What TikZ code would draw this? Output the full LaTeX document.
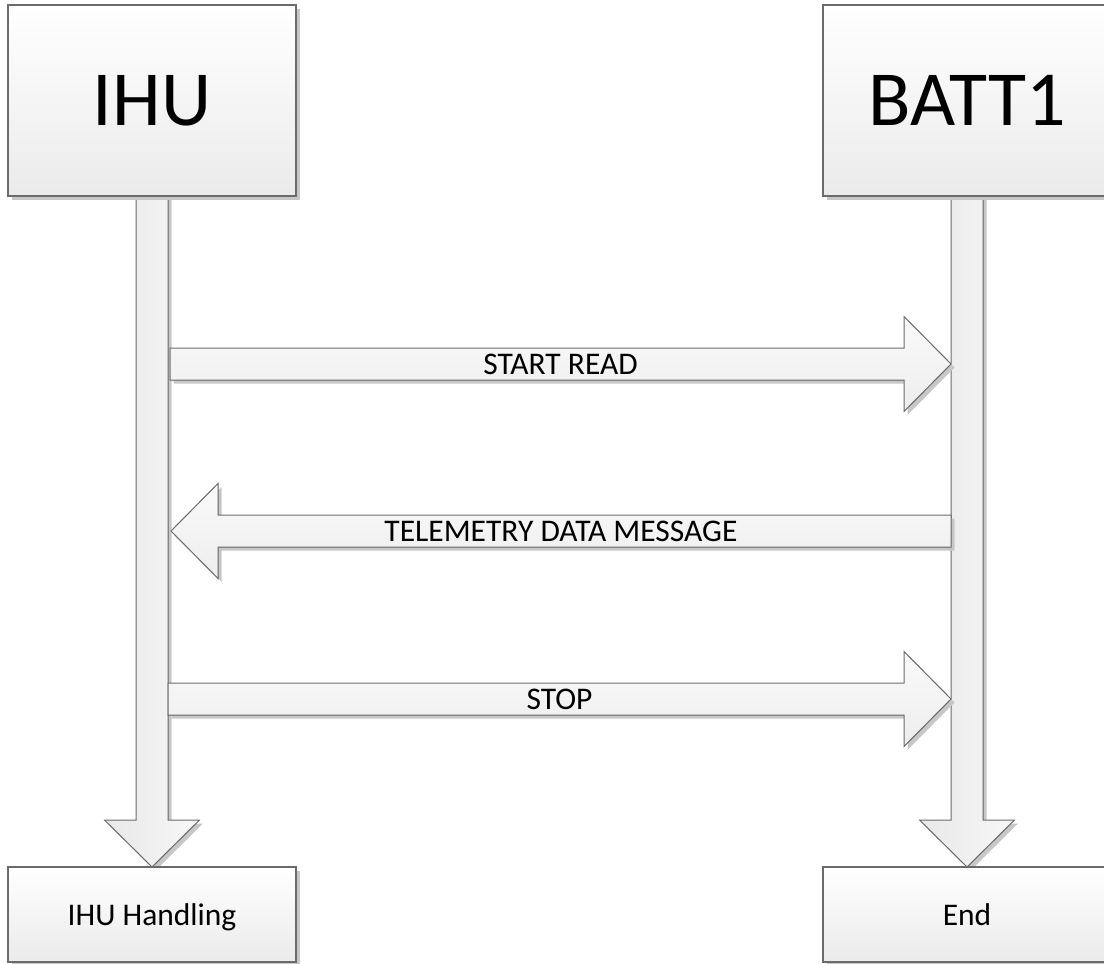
\documentclass[tikz,border=0pt]{standalone}
\usepackage{fontspec}
\setmainfont{Carlito}
\usetikzlibrary{calc,shadows}

\tikzset{
  lanebox/.style={draw=black!58, line width=1.1pt, top color=white, bottom color=black!8,
    inner sep=0pt, minimum width=288pt, text depth=0pt,
    drop shadow={shadow xshift=4pt, shadow yshift=-4pt, fill=black!22, opacity=1}},
  headbox/.style={lanebox, minimum height=191pt, font=\fontsize{78}{90}\selectfont},
  footbox/.style={lanebox, minimum height=95pt, font=\fontsize{31.5}{38}\selectfont},
  fatbase/.style={draw=black!58, line width=1pt, line join=miter,
    drop shadow={shadow xshift=3.5pt, shadow yshift=-3.5pt, fill=black!22, opacity=1}},
  lifeline/.style={fatbase, left color=black!9, right color=black!3},
  message/.style={fatbase, top color=black!2, bottom color=black!7},
  msglabel/.style={inner sep=0pt, text depth=0pt, font=\fontsize{31.5}{38}\selectfont}
}

% block arrow from #2 to #3: shaft half-width 16, head half-width 47.5, head length 47
\newcommand\fatarrow[3][]{%
  \coordinate (fb) at ($(#3)!47pt!(#2)$);
  \filldraw[#1] ($(#2)!16pt!90:(#3)$) -- ($(fb)!16pt!-90:(#2)$)
    -- ($(fb)!47.5pt!-90:(#2)$) -- (#3) -- ($(fb)!47.5pt!90:(#2)$)
    -- ($(fb)!16pt!90:(#2)$) -- ($(#2)!16pt!-90:(#3)$) -- cycle;
}

\begin{document}
\begin{tikzpicture}[x=1pt,y=-1pt]
\useasboundingbox (0,0) rectangle (1104,964);

% participants
\path (152,100.5) coordinate (ihuC) (967,100.5) coordinate (battC)
      (152,914.5) coordinate (ihuhC) (967,914.5) coordinate (endC);

% lifelines (drawn first, boxes sit on top of their ends)
\path (152,196) coordinate (ihuTop) (152,867) coordinate (ihuBot)
      (967,196) coordinate (battTop) (967,867) coordinate (battBot);
\fatarrow[lifeline]{ihuTop}{ihuBot}
\fatarrow[lifeline]{battTop}{battBot}

\node[headbox] (ihu) at (ihuC) {IHU};
\node[headbox] (batt) at (battC) {BATT1};
\node[footbox] (ihuh) at (ihuhC) {IHU Handling};
\node[footbox] (end) at (endC) {End};

% messages between the lifelines
\coordinate (m1s) at (170,364);
\coordinate (m1t) at (951,364);
\coordinate (m2s) at (951,531);
\coordinate (m2t) at (171,531);
\coordinate (m3s) at (168,699);
\coordinate (m3t) at (951,699);

\fatarrow[message]{m1s}{m1t}
\fatarrow[message]{m2s}{m2t}
\fatarrow[message]{m3s}{m3t}

\node[msglabel] (l1) at ($(m1s)!0.5!(m1t)$) {START READ};
\node[msglabel] (l2) at ($(m2s)!0.5!(m2t)$) {TELEMETRY DATA MESSAGE};
\node[msglabel] (l3) at ($(m3s)!0.5!(m3t)$) {STOP};
\end{tikzpicture}
\end{document}
